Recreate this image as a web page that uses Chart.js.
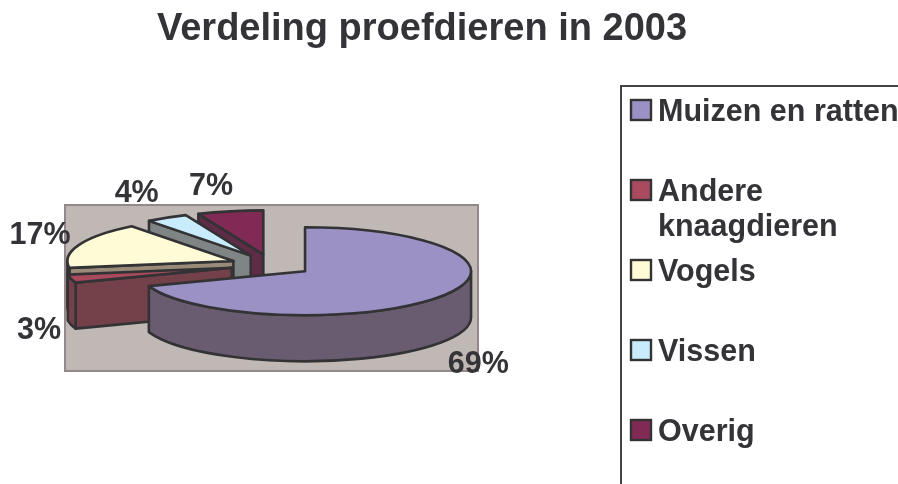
<!DOCTYPE html>
<html>
<head>
<meta charset="utf-8">
<title>Verdeling proefdieren in 2003</title>
<style>
  html, body { margin: 0; padding: 0; background: #fff; }
  canvas { display: block; }
</style>
<script src="https://cdn.jsdelivr.net/npm/chart.js@4"></script>
</head>
<body>
<canvas id="pieChart" width="898" height="484"></canvas>
<script>
const chartTitle = "Verdeling proefdieren in 2003";
const categories = ["Muizen en ratten", "Andere knaagdieren", "Vogels", "Vissen", "Overig"];
const percentages = [69.5, 3, 17, 4.1, 6.4];
const percentLabels = ["69%", "3%", "17%", "4%", "7%"];
const topColors = ["#9B91C5", "#A94A5E", "#FFFBD6", "#C8ECFB", "#822A56"];
const sideColors = ["#695C70", "#74404A", "#9A8A78", "#7F8585", "#5E2C46"];
const legendLines = [["Muizen en ratten"], ["Andere", "knaagdieren"], ["Vogels"], ["Vissen"], ["Overig"]];

// how far each percentage sits from the rim of its slice
const labelShift = [[37.5, 68], [-32, 52], [-39, -9], [-30, -24], [-19, -25]];

const FLATTEN = 0.265;
const DEPTH = 46;
const OUTLINE = "#333336";
const TEXT = "#333338";

function paint(ctx, fill) {
  ctx.fillStyle = fill;
  ctx.fill();
  ctx.stroke();
}

function drawWall(ctx, cx, cy, r, a, side) {
  const ex = cx + Math.cos(a) * r;
  const ey = cy + Math.sin(a) * r * FLATTEN;
  ctx.beginPath();
  ctx.moveTo(cx, cy);
  ctx.lineTo(ex, ey);
  ctx.lineTo(ex, ey + DEPTH);
  ctx.lineTo(cx, cy + DEPTH);
  ctx.closePath();
  paint(ctx, side);
}

function drawSlice(ctx, arc, side) {
  const mid = (arc.startAngle + arc.endAngle) / 2;
  const r = arc.outerRadius;
  const off = arc.options.offset;
  const cx = arc.x + Math.cos(mid) * off;
  const cy = arc.y - DEPTH / 2 + Math.sin(mid) * off * FLATTEN;
  const a0 = arc.startAngle;
  const a1 = arc.endAngle;

  // only the walls that face the viewer
  if (Math.cos(a0) < -0.001) drawWall(ctx, cx, cy, r, a0, side);
  if (Math.cos(a1) > 0.001) drawWall(ctx, cx, cy, r, a1, side);

  // rim, only the part on the front half of the ellipse
  const from = Math.max(a0, 0);
  const to = Math.min(a1, Math.PI);
  if (to > from) {
    ctx.beginPath();
    ctx.ellipse(cx, cy, r, r * FLATTEN, 0, from, to);
    ctx.ellipse(cx, cy + DEPTH, r, r * FLATTEN, 0, to, from, true);
    ctx.closePath();
    paint(ctx, side);
  }

  ctx.beginPath();
  ctx.moveTo(cx, cy);
  ctx.ellipse(cx, cy, r, r * FLATTEN, 0, a0, a1);
  ctx.closePath();
  paint(ctx, arc.options.backgroundColor);
}

const flatPie = {
  id: "flatPie",
  beforeDatasetsDraw(chart) {
    const { ctx, chartArea } = chart;
    ctx.save();
    ctx.fillStyle = "#C0B8B4";
    ctx.strokeStyle = "#96888A";
    ctx.lineWidth = 2;
    ctx.fillRect(chartArea.left, chartArea.top, chartArea.width, chartArea.height);
    ctx.strokeRect(chartArea.left, chartArea.top, chartArea.width, chartArea.height);
    ctx.restore();
  },
  beforeDatasetDraw(chart, args) {
    const { ctx } = chart;
    const arcs = args.meta.data;
    ctx.save();
    ctx.strokeStyle = OUTLINE;
    ctx.lineWidth = 2.6;
    ctx.lineJoin = "round";
    // back to front, the big slice sits in front of the others
    for (let i = arcs.length - 1; i >= 0; i--) {
      drawSlice(ctx, arcs[i], sideColors[i]);
    }
    ctx.restore();
    return false;
  },
  afterDraw(chart) {
    const { ctx } = chart;
    const arcs = chart.getDatasetMeta(0).data;
    ctx.save();
    ctx.fillStyle = TEXT;

    // title
    ctx.font = "bold 38px 'Liberation Sans'";
    ctx.textAlign = "center";
    ctx.textBaseline = "alphabetic";
    ctx.fillText(chartTitle, 422, 40);

    // percentages
    ctx.font = "bold 30.5px 'Liberation Sans'";
    ctx.textBaseline = "middle";
    arcs.forEach(function (arc, i) {
      const mid = (arc.startAngle + arc.endAngle) / 2;
      const reach = arc.outerRadius + arc.options.offset;
      const x = arc.x + Math.cos(mid) * reach + labelShift[i][0];
      const y = arc.y - DEPTH / 2 + Math.sin(mid) * reach * FLATTEN + labelShift[i][1];
      ctx.fillText(percentLabels[i], x, y);
    });

    // legend box runs off the page at the right and the bottom
    ctx.strokeStyle = "#444446";
    ctx.lineWidth = 2;
    ctx.beginPath();
    ctx.moveTo(621, 490);
    ctx.lineTo(621, 86);
    ctx.lineTo(905, 86);
    ctx.stroke();

    ctx.font = "bold 30.5px 'Liberation Sans'";
    ctx.textAlign = "left";
    ctx.textBaseline = "alphabetic";
    legendLines.forEach(function (lines, i) {
      const top = 100 + i * 80;
      ctx.fillStyle = topColors[i];
      ctx.strokeStyle = OUTLINE;
      ctx.lineWidth = 2.4;
      ctx.fillRect(631, top, 20, 20);
      ctx.strokeRect(631, top, 20, 20);
      ctx.fillStyle = TEXT;
      lines.forEach(function (line, n) {
        ctx.fillText(line, 658, top + 21 + n * 35);
      });
    });
    ctx.restore();
  },
};

new Chart(document.getElementById("pieChart"), {
  type: "pie",
  data: {
    labels: categories,
    datasets: [
      {
        data: percentages,
        backgroundColor: topColors,
        offset: 41,
        hoverOffset: 0,
      },
    ],
  },
  options: {
    responsive: false,
    animation: false,
    radius: 166,
    layout: {
      padding: { left: 65, right: 420, top: 205, bottom: 113 },
    },
    plugins: {
      legend: { display: false },
      title: { display: false },
      tooltip: { enabled: false },
    },
  },
  plugins: [flatPie],
});
</script>
</body>
</html>
